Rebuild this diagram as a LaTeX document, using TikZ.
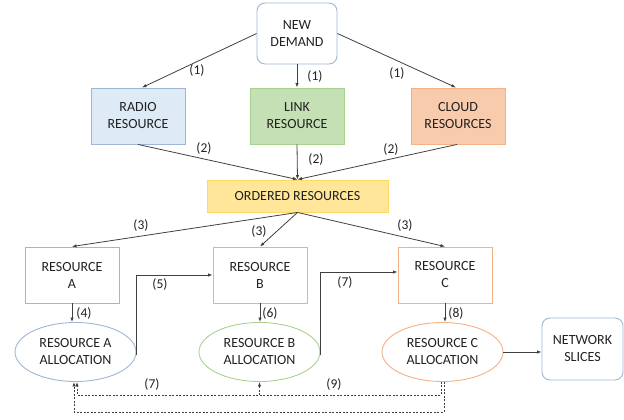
\documentclass[tikz,border=0pt]{standalone}
\usepackage{fontspec}
\setmainfont{Carlito}
\usetikzlibrary{arrows.meta,shapes.geometric,calc}
\definecolor{txt}{HTML}{222222}
\definecolor{arr}{HTML}{404040}
\definecolor{bluebd}{HTML}{9FB6D4}
\definecolor{bluefill}{HTML}{DEEBF7}
\definecolor{greenbd}{HTML}{A9D18E}
\definecolor{greenfill}{HTML}{C5E0B4}
\definecolor{orangebd}{HTML}{F4B183}
\definecolor{orangefill}{HTML}{F8CBAD}
\definecolor{yellowbd}{HTML}{FFD966}
\definecolor{yellowfill}{HTML}{FFE699}
\begin{document}
\begin{tikzpicture}[x=1pt,y=-1pt,
  every node/.style={text=txt,font=\fontsize{14}{17}\selectfont,align=center},
  box/.style={draw,line width=0.9pt,minimum width=94pt,minimum height=56pt,inner sep=0pt},
  rbox/.style={box,rounded corners=8pt},
  ell/.style={draw,line width=0.9pt,ellipse,minimum width=121pt,minimum height=59pt,inner sep=0pt},
  lab/.style={font=\fontsize{13.5}{15}\selectfont},
  conn/.style={draw=arr,line width=0.8pt,-{Latex[length=4.5pt,width=3.5pt]}},
  dconn/.style={conn,dash pattern=on 2pt off 1.5pt}]
\useasboundingbox (0,0) rectangle (624,420);
\node[rbox,draw=bluebd,minimum width=80pt,minimum height=61pt] (demand) at (297,33.5) {NEW\\DEMAND};
\node[box,draw=bluebd,fill=bluefill] (radio) at (138,116) {RADIO\\RESOURCE};
\node[box,draw=greenbd,fill=greenfill] (link) at (297,116) {LINK\\RESOURCE};
\node[box,draw=orangebd,fill=orangefill] (cloud) at (458,116) {CLOUD\\RESOURCES};
\node[box,draw=yellowbd,fill=yellowfill,minimum width=181pt,minimum height=32pt] (ordered) at (297.5,196) {ORDERED RESOURCES};
\node[box,draw=bluebd] (resA) at (72,275) {RESOURCE\\A};
\node[box,draw=greenbd] (resB) at (260,275) {RESOURCE\\B};
\node[box,draw=orangebd] (resC) at (445,275) {RESOURCE\\C};
\node[ell,draw=bluebd] (allocA) at (75.5,352) {RESOURCE A\\ALLOCATION};
\node[ell,draw=greenbd] (allocB) at (259.5,352) {RESOURCE B\\ALLOCATION};
\node[ell,draw=orangebd] (allocC) at (442.5,352) {RESOURCE C\\ALLOCATION};
\node[rbox,draw=bluebd,minimum width=81pt,minimum height=62pt] (slices) at (582.5,349) {NETWORK\\SLICES};
% step 1
\draw[conn] (demand.west) -- ([xshift=4pt]radio.north);
\draw[conn] (demand.south) -- (link.north);
\draw[conn] (demand.east) -- ([xshift=-2pt]cloud.north);
\node[lab] (l1a) at (197,70) {(1)};
\node[lab] (l1b) at (315,76) {(1)};
\node[lab] (l1c) at (397,73) {(1)};
% step 2
\draw[conn] (radio.south) -- (ordered.north);
\draw[conn] (link.south) -- (ordered.north);
\draw[conn] ([xshift=-1pt]cloud.south) -- (ordered.north);
\node[lab] (l2a) at (204,148) {(2)};
\node[lab] (l2b) at (316,159) {(2)};
\node[lab] (l2c) at (391,149) {(2)};
% step 3
\draw[conn] (ordered.south) -- (resA.north);
\draw[conn] (ordered.south) -- (resB.north);
\draw[conn] (ordered.south) -- (resC.north);
\node[lab] (l3a) at (141,225) {(3)};
\node[lab] (l3b) at (259,231) {(3)};
\node[lab] (l3c) at (405,225) {(3)};
% steps 4-8
\draw[conn] (resA.south) -- (resA.south |- allocA.north);
\draw[conn] (resB.south) -- (resB.south |- allocB.north);
\draw[conn] (resC.south) -- (resC.south |- allocC.north);
\node[lab] (l4) at (84,313) {(4)};
\node[lab] (l6) at (270,313) {(6)};
\node[lab] (l8) at (456,313) {(8)};
\draw[conn] ([yshift=-3pt]allocA.east) |- (resB.west);
\node[lab] (l5) at (160,284) {(5)};
\draw[conn] ([yshift=-3pt]allocB.east) |- ([yshift=3pt]resC.west);
\node[lab] (l7a) at (345,282) {(7)};
\draw[conn] (allocC.east) -- (allocC.east -| slices.west);
% dashed feedback
\coordinate (d1) at (0,395);
\coordinate (d2) at (0,412);
\draw[dconn] ([xshift=-1.5pt]allocC.south) -- ([xshift=-1.5pt]allocC.south |- d1) -- ([xshift=1.5pt]allocA.south |- d1) -- ([xshift=1.5pt]allocA.south);
\draw[dconn] ([xshift=1.5pt]allocC.south) -- ([xshift=1.5pt]allocC.south |- d2) -- ([xshift=-1.5pt]allocA.south |- d2) -- ([xshift=-1.5pt]allocA.south);
\draw[dconn] (allocB.south |- d1) -- (allocB.south);
\node[lab] (l7b) at (152,384) {(7)};
\node[lab] (l9) at (334,384) {(9)};
\end{tikzpicture}
\end{document}
